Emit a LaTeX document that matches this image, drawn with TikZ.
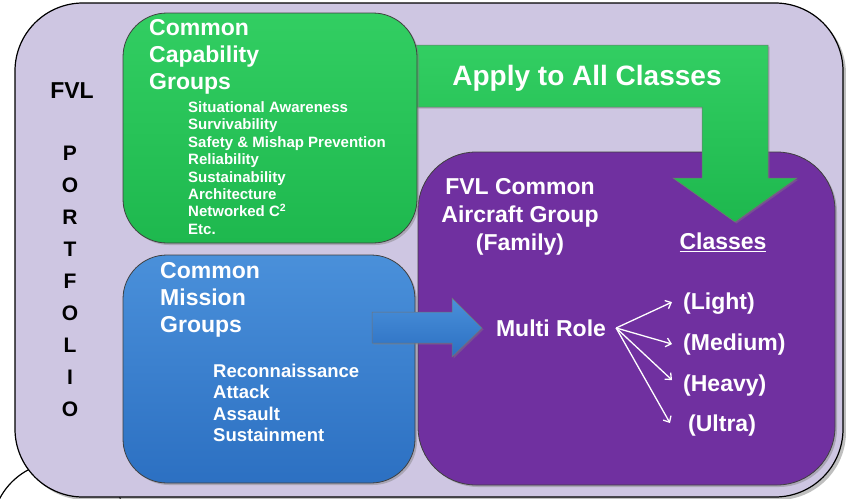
\documentclass[tikz,border=0pt]{standalone}
\usepackage{fontspec}
\setmainfont{Liberation Sans}
\usetikzlibrary{positioning,shadows,arrows.meta}

\definecolor{lavender}{RGB}{206,198,226}
\definecolor{capgreen}{RGB}{30,184,78}
\definecolor{capgreenlt}{RGB}{50,206,98}
\definecolor{misblue}{RGB}{44,112,194}
\definecolor{misbluelt}{RGB}{74,144,218}
\definecolor{famviolet}{RGB}{112,48,160}

\begin{document}
\begin{tikzpicture}[x=1pt, y=-1pt,
	every node/.style={inner sep=0pt,
					   align=left,
					   text=white
					   },
	head/.style={font=\fontsize{23}{27}\selectfont\bfseries},
	listA/.style={font=\fontsize{15}{17.4}\selectfont\bfseries},
	listB/.style={font=\fontsize{18.5}{21.5}\selectfont\bfseries},
	panel/.style={draw=black!75,
				  line width=0.8pt,
				  drop shadow={opacity=0.45, shadow xshift=2pt, shadow yshift=-2pt}
	},
	bigarrow/.style={draw=black!55,
					 line width=0.5pt,
					 drop shadow={opacity=0.4, shadow xshift=1.5pt, shadow yshift=-1.5pt}
	},
	fan/.style={draw=white, line width=1.3pt, -{Straight Barb[length=5pt,width=9pt]}}
]
	\useasboundingbox (0,0) rectangle (846,498);
	% background
	\draw[fill=white, line width=1.2pt] (60,530) circle[radius=68pt];
	\draw[fill=lavender, line width=1.2pt, rounded corners=68pt,
		  drop shadow={opacity=0.5, shadow xshift=3pt, shadow yshift=-3pt}] (15,3) rectangle (843,497);
	\node (fvl) [head, text=black, anchor=base] at (72,98.2) {FVL};
	\node (port) [font=\fontsize{21}{32}\selectfont\bfseries, text=black, align=center, anchor=north] at (70,145.5)
		{P\\O\\R\\T\\F\\O\\L\\I\\O};

	% family panel
	\path[panel, fill=famviolet, rounded corners=58pt] (418,152) rectangle (835,485);
	\node (family) [head, align=center, anchor=north, font=\fontsize{23}{28}\selectfont\bfseries] at (520,178.7)
		{FVL Common\\Aircraft Group\\(Family)};
	\node (classes) [head, anchor=base] at (723,249.2) {\underline{Classes}};

	% apply arrow
	\path[bigarrow, top color=capgreenlt, bottom color=capgreen]
		(400,45) -- (768,45) -- (768,178) -- (797,178) -- (735,222) -- (673,178)
		-- (702,178) -- (702,107) -- (400,107) -- cycle;
	\node (apply) [font=\fontsize{28}{32}\selectfont\bfseries, anchor=base] at (587,85) {Apply to All Classes};

	% capability panel
	\path[panel, top color=capgreenlt, bottom color=capgreen, rounded corners=44pt] (123,13) rectangle (417,243);
	\node (capHead) [head, anchor=north west] at (149,19.7) {Common\\Capability\\Groups};
	\node (capList) [listA, anchor=north west] at (188,101.5)
		{Situational Awareness\\Survivability\\Safety \& Mishap Prevention\\Reliability\\
		 Sustainability\\Architecture\\Networked C\textsuperscript{2}\\Etc.};

	% mission panel
	\path[panel, top color=misbluelt, bottom color=misblue, rounded corners=44pt] (123,255) rectangle (415,483);
	\node (misHead) [head, anchor=north west] at (160,262.7) {Common\\Mission\\Groups};
	\node (misList) [listB, anchor=north west] at (213,363.5)
		{Reconnaissance\\Attack\\Assault\\Sustainment};
	\path[bigarrow, top color=misbluelt, bottom color=misblue]
		(372,312) -- (452,312) -- (452,298) -- (482,328) -- (452,357) -- (452,343) -- (372,343) -- cycle;

	% roles
	\node (role) [head, anchor=base] at (551,336.2) {Multi Role};
	\coordinate (fanroot) at ([xshift=10pt]role.east);
	\node (light) [head, anchor=base west] at (683,309) {(Light)};
	\node (medium) [head, anchor=base west] at (683,350) {(Medium)};
	\node (heavy) [head, anchor=base west] at (683,391) {(Heavy)};
	\node (ultra) [head, anchor=base west] at (688,431) {(Ultra)};
	\draw[fan] (fanroot) -- ([xshift=-11pt, yshift=1pt]light.west);
	\draw[fan] (fanroot) -- ([xshift=-11pt]medium.west);
	\draw[fan] (fanroot) -- ([xshift=-11pt, yshift=5pt]heavy.west);
	\draw[fan] (fanroot) -- ([xshift=-18pt, yshift=2pt]ultra.west);
\end{tikzpicture}
\end{document}
